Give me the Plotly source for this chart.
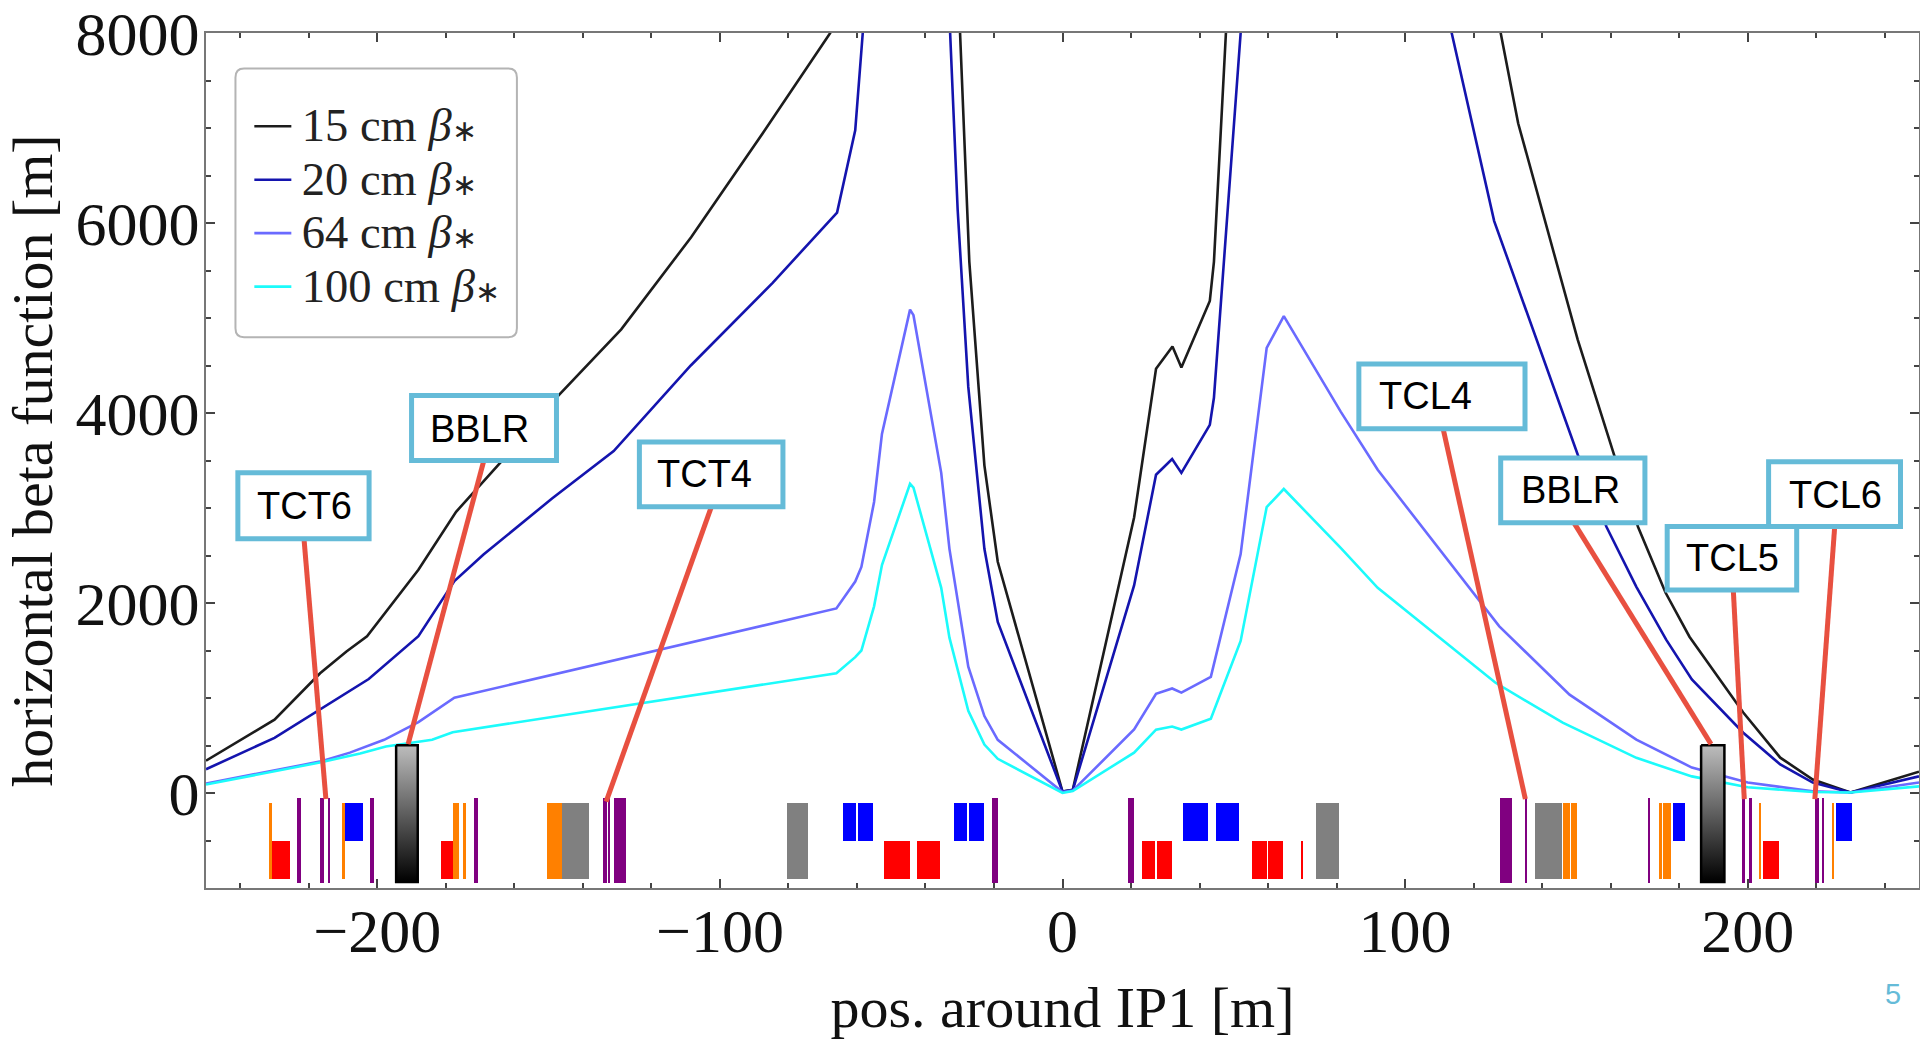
import plotly.graph_objects as go

# ---- curves (position [m], beta [m]) ----
x_15 = [-250,-230,-216.7,-209,-203,-188,-177,-162.5,-147.5,-128.8,-108.4,-87.2,-67.8,-45,-29.9,-27.2,-22.8,-18.9,0,3,20.9,27.3,32.1,34.7,43,44.2,47.7,90,127.9,133,150.4,161,168,176,183,198.7,209.5,219,230,250]
y_15 = [340,772,1260,1490,1650,2350,2960,3540,4170,4880,5850,6960,8000,14000,8000,5594,3449,2434,15,35,2900,4465,4700,4480,5180,5590,8000,14000,8000,7050,4770,3560,2800,2110,1645,847,372,142,5,225]
x_20 = [-250,-230,-202.5,-188,-177.5,-169,-149,-131,-108.5,-84.6,-65.8,-60.5,-58.3,-45,-32.8,-30.6,-27.5,-22.8,-18.9,0,3,20.9,27.3,32,34.7,43,44.2,47.7,52,80,113.6,126,138.3,150.4,158.8,167.5,176.2,183.7,198.7,209.5,219,230,250]
y_20 = [250,580,1200,1650,2230,2510,3100,3600,4500,5370,6110,6975,8000,14000,8000,6140,4275,2570,1800,15,30,2185,3350,3515,3370,3875,4160,5925,8000,14000,8000,6020,4770,3560,2800,2170,1615,1195,635,300,110,5,175]
x_64 = [-250,-216.8,-208,-198,-188,-177.5,-66,-60.5,-58.7,-55,-52.7,-44.5,-43.5,-35.4,-33,-27.5,-22.8,-18.9,0,3,20.9,27.3,32,34.7,43.3,52,59.6,64.6,81.2,92,127.5,148,167.5,183.7,200,219,230,250]
y_64 = [100,330,425,560,746,1003,1943,2226,2380,3063,3780,5088,5030,3370,2570,1330,810,560,10,25,668,1045,1100,1057,1222,2515,4685,5020,4015,3402,1754,1035,562,268,110,19,5,110]
x_100 = [-250,-216.8,-205,-197.5,-184,-178,-66,-60.5,-58.7,-55,-52.7,-44.5,-43.5,-35.4,-33,-27.5,-22.8,-18.9,0,3,20.9,27.3,32,34.7,43.3,52,59.6,64.6,81.2,92,126.4,146,167.5,183.7,200,219,230,250]
y_100 = [90,320,415,490,560,640,1260,1430,1500,1965,2400,3255,3215,2160,1635,866,510,360,0,20,425,667,700,668,783,1600,3010,3200,2580,2160,1160,740,370,175,60,10,5,70]

beta_labels = ["15 cm", "20 cm", "64 cm", "100 cm"]
curve_colors = ["#1c1c1c", "#1414ae", "#6a6aff", "#1cfbfb"]

# ---- beam-line elements: start, end [m] ----
purple_start = [-223.4,-216.6,-214.2,-202,-171.7,-134.2,-132.6,-130.9,-20.6,19.1,127.7,135.1,170.9,198.4,200.5,219.7,221.6]
purple_end   = [-222.2,-215.5,-213.8,-201,-170.7,-133.1,-132,-127.5,-18.9,20.8,131.1,135.7,171.6,199.1,201.3,220.8,222.4]
orange_start = [-231.7,-210.4,-177.8,-175,-150.4,146.1,148.5,174.1,175.4,203.4,224.5]
orange_end   = [-230.7,-209.3,-176.3,-174,-146.1,148,150.3,174.9,177.6,204,225.3]
gray_start   = [-146.1,-80.3,74,137.8]
gray_end     = [-138.2,-74.2,80.7,145.8]
red_start    = [-230.7,-181.3,-52,-42.4,23.1,27.6,55.4,60,69.5,204.4]
red_end      = [-225.6,-177.8,-44.6,-35.7,27,32,59.6,64.5,70.1,209]
blue_start   = [-209.3,-64.2,-59.7,-31.7,-27.2,35.2,44.8,178.1,225.8]
blue_end     = [-204.2,-60.3,-55.4,-27.8,-22.9,42.6,51.6,181.6,230.3]
bblr_start   = [-194.5,186.4]
bblr_end     = [-188.2,193.2]

# ---- callouts ----
label_text = ["TCT6","BBLR","TCT4","TCL4","BBLR","TCL5","TCL6"]
box_x0 = [-240.7,-190,-123.5,86.5,127.9,176.5,206.1]
box_x1 = [-202.4,-147.7,-81.6,135,170,214.3,244.6]
box_y0 = [2677,3500,3012,3835,2844,2136,2806]
box_y1 = [3372,4183,3694,4517,3526,2806,3488]
text_x = [-235.7,-185.3,-118.9,91.8,133.2,181.4,211.4]
text_y = [3025,3835,3360,4183,3192,2471,3140]
lead_x0 = [-221.4,-168.9,-102.5,111.1,149.3,195.8,225.4]
lead_y0 = [2677,3500,3012,3835,2844,2136,2806]
lead_x1 = [-215,-191,-133.2,135.1,189.3,199,219.6]
lead_y1 = [-64,515,-90,-64,515,-64,-64]

SERIF = "Liberation Serif"
SANS = "Liberation Sans"
ACCENT = "#65BBD8"
fig = go.Figure()


def add_bars(start, end, base, top, color):
    fig.add_trace(go.Bar(
        x=[(a + b) / 2 for a, b in zip(start, end)],
        width=[b - a for a, b in zip(start, end)],
        base=[base] * len(start), y=[top - base] * len(start),
        marker=dict(color=color, line=dict(width=0)),
        showlegend=False, hoverinfo="skip"))


add_bars(orange_start, orange_end, -900, -100, "#ff8000")
add_bars(gray_start, gray_end, -900, -100, "#808080")
add_bars(red_start, red_end, -900, -500, "#ff0000")
add_bars(blue_start, blue_end, -500, -100, "#0000ff")
add_bars(purple_start, purple_end, -945, -55, "#800080")

for xs, ys, lab, c in zip([x_15, x_20, x_64, x_100], [y_15, y_20, y_64, y_100], beta_labels, curve_colors):
    name = (f"<span style='font-size:22px'>\u00a0</span>"
            f"<span style='font-size:46.5px'>{lab} <i>β</i></span>"
            f"<span style='font-size:30px'>∗</span>")
    fig.add_trace(go.Scatter(x=xs, y=ys, name=name, mode="lines",
                             line=dict(color=c, width=2.6)))

for a, b in zip(bblr_start, bblr_end):
    fig.add_trace(go.Scatter(
        x=[a, b, b, a, a], y=[503, 503, -938, -938, 503], mode="lines", fill="toself",
        fillgradient=dict(type="vertical", colorscale=[[0, "#000000"], [1, "#bdbdbd"]]),
        line=dict(color="#000000", width=2.5), showlegend=False, hoverinfo="skip"))

for a, b, c, d in zip(lead_x0, lead_y0, lead_x1, lead_y1):
    fig.add_trace(go.Scatter(x=[a, c], y=[b, d], mode="lines",
                             line=dict(color="#E85040", width=5),
                             showlegend=False, hoverinfo="skip"))

shapes = []
for a, b, c, d in zip(box_x0, box_x1, box_y0, box_y1):
    shapes.append(dict(type="rect", xref="x", yref="y", x0=a, x1=b, y0=c, y1=d,
                       fillcolor="#ffffff", line=dict(color=ACCENT, width=5), layer="above"))
# rounded legend frame
lx0, lx1, ly0, ly1 = 0.0172, 0.1815, 0.6442, 0.9585
rx, ry = 0.005, 0.0105
shapes.insert(0, dict(type="path", xref="paper", yref="paper", layer="above",
    path=(f"M {lx0+rx} {ly0} L {lx1-rx} {ly0} Q {lx1} {ly0} {lx1} {ly0+ry} L {lx1} {ly1-ry} "
          f"Q {lx1} {ly1} {lx1-rx} {ly1} L {lx0+rx} {ly1} Q {lx0} {ly1} {lx0} {ly1-ry} "
          f"L {lx0} {ly0+ry} Q {lx0} {ly0} {lx0+rx} {ly0} Z"),
    fillcolor="rgba(255,255,255,0)", line=dict(color="#b4b4b4", width=2)))

annotations = [dict(x=tx, y=ty, xref="x", yref="y", text=t, showarrow=False,
                    xanchor="left", yanchor="middle",
                    font=dict(family=SANS, size=38, color="#000000"))
               for t, tx, ty in zip(label_text, text_x, text_y)]
annotations.append(dict(x=(1903 - 206) / 1713, y=(888 - 1012) / 855, xref="paper", yref="paper",
                        text="5", showarrow=False,
                        font=dict(family=SANS, size=29, color=ACCENT)))


def axis(dtick, minor, rng, title, standoff, label_shift):
    return dict(range=rng, dtick=dtick, tick0=0, ticks="inside", ticklen=9, tickwidth=1.5,
                tickcolor="#444444", showgrid=False, zeroline=False, showline=True,
                linecolor="#777777", linewidth=2, mirror="allticks", automargin=False,
                ticklabeloverflow="allow", ticklabelstandoff=label_shift,
                minor=dict(dtick=minor, ticks="inside", ticklen=5, tickwidth=1.5,
                           tickcolor="#444444", showgrid=False),
                tickfont=dict(family=SERIF, size=62, color="#111111"),
                title=dict(text=title, font=dict(family=SERIF, size=58, color="#111111"),
                           standoff=standoff))


fig.update_layout(
    width=1920, height=1041, autosize=False,
    margin=dict(l=206, r=1, t=33, b=153),
    paper_bgcolor="#ffffff", plot_bgcolor="#ffffff", barmode="overlay", bargap=0,
    xaxis=axis(100, 20, [-250, 250], "pos. around IP1 [m]", 22, -12),
    yaxis=axis(2000, 500, [-1000, 8000], "horizontal beta function [m]", 16, -8),
    shapes=shapes, annotations=annotations,
    legend=dict(x=0.0253, y=0.928, xanchor="left", yanchor="top", bgcolor="rgba(0,0,0,0)",
                borderwidth=0, traceorder="normal", itemwidth=37,
                font=dict(family=SERIF, size=38.8, color="#222222")),
)
fig.write_html("out.html", config={"displayModeBar": False},
               post_script="document.body.style.margin='0';document.documentElement.style.overflow='hidden';")
